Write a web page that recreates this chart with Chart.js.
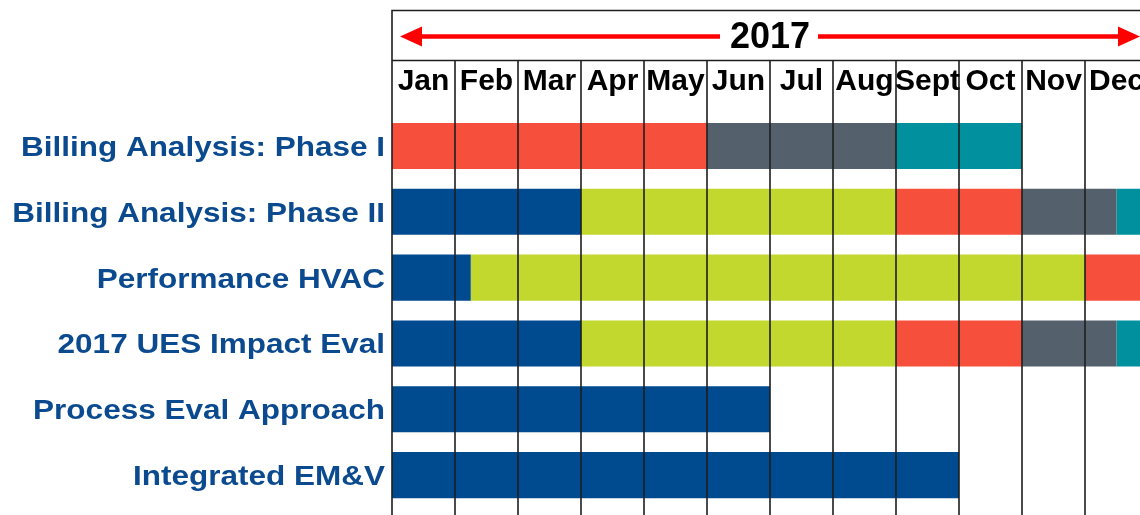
<!DOCTYPE html>
<html>
<head>
<meta charset="utf-8">
<script src="https://cdn.jsdelivr.net/npm/chart.js@4/dist/chart.umd.min.js"></script>
<style>
  html, body { margin: 0; padding: 0; background: #fff; overflow: hidden; }
</style>
</head>
<body>
<canvas id="chart" width="1160" height="515"></canvas>
<script>
// rows of the plan, top to bottom
const categories = ['Billing Analysis: Phase I', 'Billing Analysis: Phase II', 'Performance HVAC',
    '2017 UES Impact Eval', 'Process Eval Approach', 'Integrated EM&V'];
const months = ['Jan', 'Feb', 'Mar', 'Apr', 'May', 'Jun', 'Jul', 'Aug', 'Sept', 'Oct', 'Nov', 'Dec'];
const yearLabel = '2017';

// [start month, end month] per row, null where the phase is absent
const blueBars  = [null, [0, 3], [0, 1.25], [0, 3], [0, 6], [0, 9]];
const greenBars = [null, [3, 8], [1.25, 11], [3, 8], null, null];
const redBars   = [[0, 5], [8, 10], [11, 12], [8, 10], null, null];
const grayBars  = [[5, 8], [10, 11.5], null, [10, 11.5], null, null];
const tealBars  = [[8, 10], [11.5, 12], null, [11.5, 12], null, null];

const FONT = '"Liberation Sans", Arial, sans-serif';

const ganttFrame = {
    id: 'ganttFrame',
    afterDatasetsDraw(chart) {
        const ctx = chart.ctx;
        const x = chart.scales.x;
        const y = chart.scales.y;
        const left = x.getPixelForValue(0);
        const right = x.getPixelForValue(months.length);
        const mid = (left + right) / 2;

        ctx.save();
        // frame and month lines
        ctx.strokeStyle = '#1e1e1e';
        ctx.lineWidth = 1.6;
        ctx.beginPath();
        ctx.moveTo(left, chart.height);
        ctx.lineTo(left, 10.5);
        ctx.lineTo(right, 10.5);
        ctx.moveTo(left, 60.5);
        ctx.lineTo(right, 60.5);
        for (let i = 1; i <= months.length; i++) {
            const px = x.getPixelForValue(i);
            ctx.moveTo(px, 60);
            ctx.lineTo(px, chart.height);
        }
        ctx.stroke();

        // row names (slightly wide lettering, as in the slide)
        ctx.fillStyle = '#0b4a8f';
        ctx.textAlign = 'right';
        ctx.textBaseline = 'alphabetic';
        ctx.font = 'bold 28px ' + FONT;
        categories.forEach(function(c, i) {
            ctx.save();
            ctx.translate(left - 7, y.getPixelForValue(i) + 10);
            ctx.scale(1.125, 1);
            ctx.fillText(c, 0, 0);
            ctx.restore();
        });

        // month names
        ctx.fillStyle = '#000';
        ctx.textAlign = 'center';
        ctx.font = 'bold 30px ' + FONT;
        months.forEach(function(m, i) {
            ctx.fillText(m, x.getPixelForValue(i + 0.5), 90);
        });

        // year with arrows
        ctx.font = 'bold 36px ' + FONT;
        ctx.fillText(yearLabel, mid, 48);

        const ay = 36.5;
        ctx.strokeStyle = '#ff0000';
        ctx.fillStyle = '#ff0000';
        ctx.lineWidth = 4.5;
        ctx.beginPath();
        ctx.moveTo(left + 27, ay);
        ctx.lineTo(mid - 50, ay);
        ctx.moveTo(mid + 48, ay);
        ctx.lineTo(right - 27, ay);
        ctx.stroke();

        ctx.beginPath();
        ctx.moveTo(left + 8, ay);
        ctx.lineTo(left + 30, ay - 10);
        ctx.lineTo(left + 30, ay + 10);
        ctx.closePath();
        ctx.moveTo(right - 8, ay);
        ctx.lineTo(right - 30, ay - 10);
        ctx.lineTo(right - 30, ay + 10);
        ctx.closePath();
        ctx.fill();
        ctx.restore();
    }
};

function phase(data, color) {
    return {
        data: data,
        backgroundColor: color,
        borderWidth: 0,
        grouped: false,
        barPercentage: 0.7,
        categoryPercentage: 1.0
    };
}

var ctx = document.getElementById('chart').getContext('2d');
var chart = new Chart(ctx, {
    type: 'bar',
    data: {
        labels: categories,
        datasets: [
            phase(blueBars, '#004a8f'),
            phase(greenBars, '#c2d82f'),
            phase(redBars, '#f64f3b'),
            phase(grayBars, '#54606c'),
            phase(tealBars, '#00909e')
        ]
    },
    options: {
        indexAxis: 'y',
        responsive: false,
        animation: false,
        layout: {
            padding: { top: 113, bottom: 7, right: 12, left: 0 }
        },
        scales: {
            x: {
                display: false,
                min: 0,
                max: months.length
            },
            y: {
                grid: { display: false, drawTicks: false },
                border: { display: false },
                ticks: { display: false },
                afterFit: function(scale) {
                    scale.width = 392;
                    scale.paddingTop = 0;
                    scale.paddingBottom = 0;
                }
            }
        },
        plugins: {
            legend: { display: false },
            tooltip: { enabled: false }
        }
    },
    plugins: [ganttFrame]
});
</script>
</body>
</html>
